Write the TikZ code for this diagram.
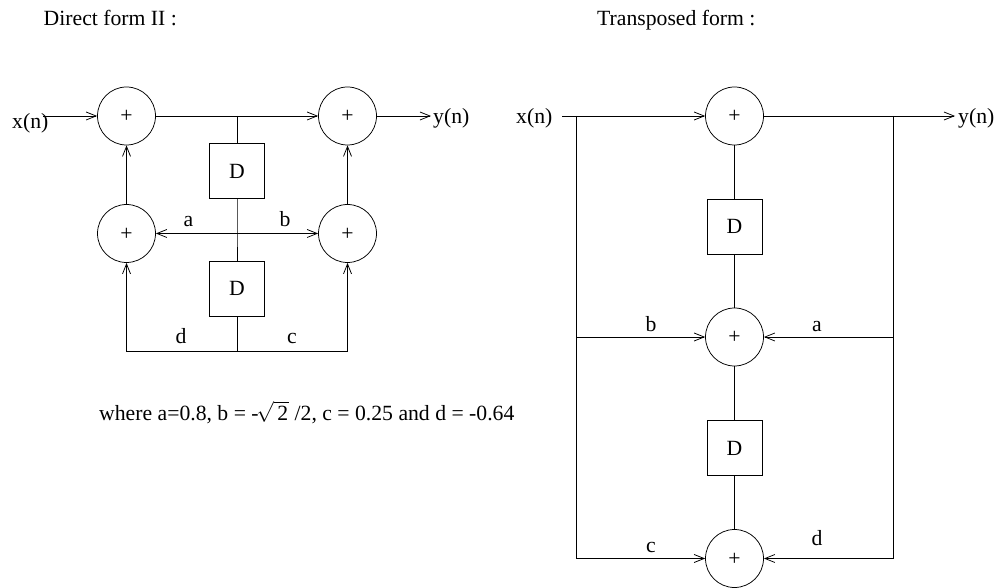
\documentclass[tikz,border=0pt]{standalone}
\usepackage{fontspec}
\setmainfont{Liberation Serif}
\usetikzlibrary{arrows.meta}
\newcommand{\plusmark}{\raisebox{-7pt}[0pt][0pt]{+}}
\tikzset{
  sumnode/.style={draw,circle,minimum size=58pt,inner sep=0pt,line width=0.75pt},
  delaybox/.style={draw,minimum size=55pt,inner sep=0pt,line width=0.75pt},
  wire/.style={line width=0.75pt,black},
  flow/.style={wire,-{Straight Barb[length=10pt,width=8pt,line width=0.75pt]}},
  lab/.style={inner sep=0pt,font=\fontsize{21.7}{26}\selectfont},
}
\begin{document}
\begin{tikzpicture}[x=1pt,y=-1pt]
\useasboundingbox (0,0) rectangle (997,588);
% titles
\node[lab,anchor=base west] (t1) at (43.5,26) {Direct form II :};
\node[lab,anchor=base west] (t2) at (597,26) {Transposed form :};
% left diagram
\node[sumnode,lab] (s1) at (126.5,116) {\plusmark};
\node[sumnode,lab] (s2) at (347.5,116) {\plusmark};
\node[sumnode,lab] (s3) at (126.5,233.5) {\plusmark};
\node[sumnode,lab] (s4) at (347.5,233.5) {\plusmark};
\node[delaybox,lab] (d1) at (237,171) {D};
\node[delaybox,lab] (d2) at (237,288.5) {D};
\node[lab,anchor=base west] (xl) at (12,129) {x(n)};
\node[lab,anchor=base west] (yl) at (433,123.5) {y(n)};
\coordinate (xls) at (43,116);
\coordinate (yls) at (431,116);
\coordinate (j1) at (237,116);
\coordinate (j2) at (237,233.5);
\coordinate (j3) at (237,351);
\coordinate (bl) at (126.5,351);
\coordinate (br) at (347.5,351);
\draw[flow] (xls) -- (s1.west);
\draw[flow] (s1.east) -- (s2.west);
\draw[flow] (s2.east) -- (yls);
\draw[flow] (s3.north) -- (s1.south);
\draw[flow] (s4.north) -- (s2.south);
\draw[wire] (j1) -- (d1.north);
\draw[wire] (d1.south) -- (j2) -- (d2.north);
\draw[wire] (d2.south) -- (j3);
\draw[flow] (j2) -- (s3.east);
\draw[flow] (j2) -- (s4.west);
\draw[flow] (j3) -- (bl) -- (s3.south);
\draw[flow] (j3) -- (br) -- (s4.south);
\node[lab,anchor=base] (la) at (188.5,227) {a};
\node[lab,anchor=base] (lb) at (285,227) {b};
\node[lab,anchor=base] (ld) at (181,344) {d};
\node[lab,anchor=base] (lc) at (292,344) {c};
\node[lab,anchor=base west] (wh) at (99,420) {where a=0.8, b = -\hspace{-2pt}$\sqrt{\,\mbox{2}\hspace{1pt}}$ /2, c = 0.25 and d = -0.64};
% right diagram
\node[sumnode,lab] (r1) at (734.5,116) {\plusmark};
\node[sumnode,lab] (r2) at (734.5,337) {\plusmark};
\node[sumnode,lab] (r3) at (734.5,558.5) {\plusmark};
\node[delaybox,lab] (e1) at (734.5,226.5) {D};
\node[delaybox,lab] (e2) at (734.5,448) {D};
\node[lab,anchor=base west] (xr) at (516,123.5) {x(n)};
\node[lab,anchor=base west] (yr) at (958,123.5) {y(n)};
\coordinate (xrs) at (562,116);
\coordinate (yrs) at (955,116);
\coordinate (lt) at (576,116);
\coordinate (lm) at (576,337);
\coordinate (lb2) at (576,558.5);
\coordinate (rt) at (893,116);
\coordinate (rm) at (893,337);
\coordinate (rb) at (893,558.5);
\draw[flow] (xrs) -- (r1.west);
\draw[flow] (r1.east) -- (yrs);
\draw[wire] (r1.south) -- (e1.north);
\draw[wire] (e1.south) -- (r2.north);
\draw[wire] (r2.south) -- (e2.north);
\draw[wire] (e2.south) -- (r3.north);
\draw[wire] (lt) -- (lb2);
\draw[wire] (rt) -- (rb);
\draw[flow] (lm) -- (r2.west);
\draw[flow] (lb2) -- (r3.west);
\draw[flow] (rm) -- (r2.east);
\draw[flow] (rb) -- (r3.east);
\node[lab,anchor=base] (rlb) at (651,331) {b};
\node[lab,anchor=base] (rla) at (817,331) {a};
\node[lab,anchor=base] (rlc) at (651,552) {c};
\node[lab,anchor=base] (rld) at (817,545) {d};
\end{tikzpicture}
\end{document}
